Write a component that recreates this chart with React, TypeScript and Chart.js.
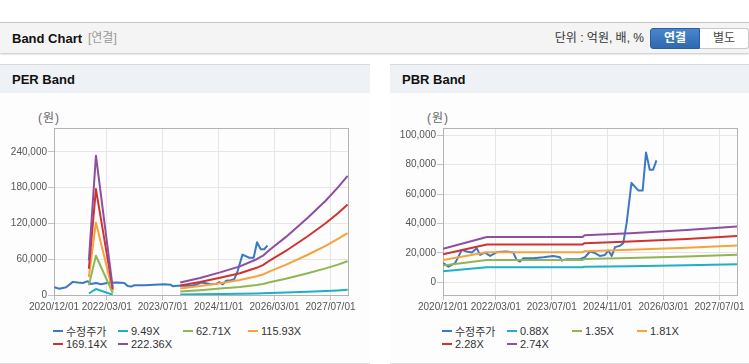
import React, { useEffect, useRef } from "react";
import { Chart, registerables } from "chart.js";
Chart.register(...registerables);

// ---- x axis (months since 2020/12/01) ----
const xMin = 0.85;
const xMax = 79.7;
const xTickMonths = [0.85, 15, 30, 45, 60, 75];
const xTickLabels = ["2020/12/01", "2022/03/01", "2023/07/01", "2024/11/01", "2026/03/01", "2027/07/01"];

// ---- adjusted share price (수정주가) ----
const priceMonths = [0.9, 2.3, 4.1, 5.9, 7.2, 8.6, 9.9, 10.8, 12.1, 13.5, 15.3, 17.9, 19.7, 20.6, 21.5, 22.4, 25.1, 27.8, 30.4, 32.2, 32.7, 34.0, 37.6, 38.9, 40.3, 41.6, 42.9, 44.3, 45.2, 46.1, 47.0, 48.3, 49.2, 50.1, 51.4, 53.2, 54.4, 55.3, 56.3, 57.2, 58.1];
const priceValues = [13000, 10600, 13000, 22000, 20900, 20200, 23200, 18600, 20200, 17900, 20500, 20900, 20200, 15200, 14100, 16400, 16400, 17000, 17900, 17000, 14700, 15700, 15700, 17000, 20900, 19800, 17900, 18600, 21600, 17900, 23900, 24800, 26600, 40200, 67700, 62500, 62500, 88400, 76600, 76600, 83000];

// ---- PER bands ----
const perBandMonths = [10.2, 12.1, 16.6, 25, 34.7, 40.0, 45.4, 50.7, 55.2, 56.9, 58.7, 63.0, 68.9, 73.7, 77.0, 79.6];
const perBand949 = [2500, 10000, 500, null, 900, 1200, 1600, 2000, 2600, 2800, 3200, 4100, 5500, 6700, 7700, 8700];
const perBand6271 = [16300, 65800, 3400, null, 5900, 8000, 10700, 13500, 16900, 18600, 21400, 27400, 36500, 44600, 50900, 56500];
const perBand11593 = [30100, 121700, 6400, null, 10900, 14900, 19800, 25000, 31300, 34400, 39600, 50600, 67500, 82400, 94100, 103900];
const perBand16914 = [44000, 177600, 9300, null, 16000, 21700, 28800, 36500, 45600, 50200, 57800, 73800, 98500, 120200, 137200, 151800];
const perBand22236 = [57800, 233500, 12200, null, 21000, 28500, 37900, 48000, 60000, 66000, 76000, 97000, 129500, 158000, 180400, 199500];
const perLabels = ["수정주가", "9.49X", "62.71X", "115.93X", "169.14X", "222.36X"];
const perYMin = 0;
const perYMax = 280000;
const perYTicks = [0, 60000, 120000, 180000, 240000];

// ---- PBR bands ----
const pbrBandMonths = [0.85, 12.6, 38.3, 38.8, 51.0, 66.2, 79.7];
const pbrBand088 = [7500, 10200, 10200, 10500, 10900, 11500, 12300];
const pbrBand135 = [11300, 15200, 15200, 15800, 16500, 17500, 18700];
const pbrBand181 = [15100, 20400, 20400, 21100, 22100, 23400, 25000];
const pbrBand228 = [19000, 25700, 25700, 26600, 27800, 29500, 31500];
const pbrBand274 = [22800, 30800, 30800, 32000, 33400, 35600, 37900];
const pbrLabels = ["수정주가", "0.88X", "1.35X", "1.81X", "2.28X", "2.74X"];
const pbrYMin = -8700;
const pbrYMax = 105000;
const pbrYTicks = [0, 20000, 40000, 60000, 80000, 100000];

const seriesColors = ["#3b78c6", "#1fb0c5", "#8fb653", "#f5a33a", "#d2322e", "#8e4f9f"];

const AXIS_FONT = '"Liberation Sans Narrow", "Liberation Sans", Arial, sans-serif';
const UI_FONT = '"Liberation Sans", "Noto Sans CJK KR", Arial, sans-serif';

const boxPlugin = {
  id: "plotBox",
  beforeDatasetsDraw(chart: any) {
    const { ctx, chartArea } = chart;
    const l = Math.round(chartArea.left) + 0.5;
    const t = Math.round(chartArea.top) + 0.5;
    const r = Math.round(chartArea.right) + 0.5;
    const b = Math.round(chartArea.bottom) + 0.5;
    ctx.save();
    ctx.strokeStyle = "#b3b3b3";
    ctx.lineWidth = 1;
    ctx.strokeRect(l, t, r - l, b - t);
    ctx.restore();
  },
};

function buildConfig(
  labels: string[],
  bandMonths: number[],
  bands: (number | null)[][],
  yMin: number,
  yMax: number,
  yTicks: number[],
  yAxisW: number,
  padRight: number
) {
  const datasets: any[] = [];
  datasets.push({
    label: labels[0],
    data: priceMonths.map((m, i) => ({ x: m, y: priceValues[i] })),
    borderColor: seriesColors[0],
    backgroundColor: seriesColors[0],
    borderWidth: 2,
    pointRadius: 0,
    tension: 0,
    borderJoinStyle: "round",
    order: 10,
  });
  bands.forEach((vals, k) => {
    datasets.push({
      label: labels[k + 1],
      data: bandMonths.map((m, i) => ({ x: m, y: vals[i] })),
      borderColor: seriesColors[k + 1],
      backgroundColor: seriesColors[k + 1],
      borderWidth: 2,
      pointRadius: 0,
      tension: 0,
      borderJoinStyle: "round",
      spanGaps: false,
      order: 5 - k,
    });
  });
  return {
    type: "line",
    data: { datasets },
    plugins: [boxPlugin],
    options: {
      animation: false,
      responsive: false,
      maintainAspectRatio: false,
      devicePixelRatio: 1,
      layout: { padding: { top: 28, right: padRight, bottom: 0, left: 0 } },
      plugins: { legend: { display: false }, tooltip: { enabled: false } },
      events: [],
      scales: {
        x: {
          type: "linear",
          min: xMin,
          max: xMax,
          afterBuildTicks: (s: any) => {
            s.ticks = xTickMonths.map((v) => ({ value: v }));
          },
          afterFit: (s: any) => {
            s.height = 25;
          },
          ticks: {
            autoSkip: false,
            maxRotation: 0,
            minRotation: 0,
            padding: 1,
            color: "#555",
            font: { family: AXIS_FONT, size: 10 },
            callback: (_v: any, i: number) => xTickLabels[i],
          },
          grid: { color: "#e6e6e6", tickLength: 5, tickColor: "#c4c4c4" },
          border: { display: false },
        },
        y: {
          type: "linear",
          min: yMin,
          max: yMax,
          afterBuildTicks: (s: any) => {
            s.ticks = yTicks.map((v) => ({ value: v }));
          },
          afterFit: (s: any) => {
            s.width = yAxisW;
          },
          ticks: {
            autoSkip: false,
            padding: 1,
            color: "#555",
            font: { family: AXIS_FONT, size: 10 },
            callback: (_v: any, i: number) => yTicks[i].toLocaleString("en-US"),
          },
          grid: { color: "#e6e6e6", tickLength: 6, tickColor: "#c4c4c4" },
          border: { display: false },
        },
      },
    },
  };
}

function BandPanel(props: {
  left: number;
  title: string;
  labels: string[];
  bandMonths: number[];
  bands: (number | null)[][];
  yMin: number;
  yMax: number;
  yTicks: number[];
  yAxisW: number;
  width: number;
  padRight: number;
}) {
  const ref = useRef<HTMLCanvasElement | null>(null);
  useEffect(() => {
    if (!ref.current) return;
    const chart = new Chart(
      ref.current,
      buildConfig(props.labels, props.bandMonths, props.bands, props.yMin, props.yMax, props.yTicks, props.yAxisW, props.padRight) as any
    );
    return () => chart.destroy();
  }, []);
  const plotLeft = props.yAxisW;
  return (
    <div
      style={{
        position: "absolute",
        left: props.left,
        top: 64,
        width: props.width,
        height: 298,
        borderTop: "1px solid #d9d9d9",
        borderBottom: "1px solid #dddddd",
        background: "#fdfdfe",
      }}
    >
      <div
        style={{
          position: "absolute",
          left: 0,
          top: 0,
          width: "100%",
          height: 28,
          background: "#eef2f7",
        }}
      >
        <span
          style={{
            position: "absolute",
            left: 12,
            top: 7,
            fontFamily: UI_FONT,
            fontWeight: "bold",
            fontSize: 13,
            lineHeight: "15px",
            color: "#111",
          }}
        >
          {props.title}
        </span>
      </div>
      <span
        style={{
          position: "absolute",
          left: plotLeft - 16,
          top: 46,
          fontFamily: UI_FONT,
          fontSize: 12,
          lineHeight: "14px",
          color: "#666",
          letterSpacing: 1,
        }}
      >
        (원)
      </span>
      <canvas
        ref={ref}
        width={props.width}
        height={220}
        style={{ position: "absolute", left: 0, top: 35, width: props.width, height: 220 }}
      />
      <div
        style={{
          position: "absolute",
          left: plotLeft - 1,
          top: 259,
          width: 262,
          display: "flex",
          flexWrap: "wrap",
        }}
      >
        {props.labels.map((lab, i) => (
          <div
            key={lab}
            style={{
              width: 65,
              height: 13.5,
              display: "flex",
              alignItems: "center",
              fontFamily: UI_FONT,
              fontSize: 11,
              color: "#333",
              whiteSpace: "nowrap",
            }}
          >
            <span
              style={{
                display: "inline-block",
                width: 10,
                height: 2,
                background: seriesColors[i],
                marginRight: 3,
              }}
            />
            {lab}
          </div>
        ))}
      </div>
    </div>
  );
}

export default function App() {
  return (
    <div
      style={{
        position: "relative",
        width: 749,
        height: 364,
        overflow: "hidden",
        background: "#ffffff",
        fontFamily: UI_FONT,
      }}
    >
      <style>{"body{margin:0;}"}</style>
      <div
        style={{
          position: "absolute",
          left: 0,
          top: 22,
          width: 749,
          height: 30,
          background: "#f4f4f4",
          borderTop: "1px solid #c6c6c6",
          boxShadow: "0 1px 2px rgba(0,0,0,0.25)",
        }}
      >
        <span
          style={{
            position: "absolute",
            left: 12,
            top: 8,
            fontSize: 13,
            fontWeight: "bold",
            lineHeight: "15px",
            color: "#111",
          }}
        >
          Band Chart
        </span>
        <span
          style={{
            position: "absolute",
            left: 88,
            top: 8,
            fontSize: 12,
            lineHeight: "15px",
            color: "#999",
          }}
        >
          [연결]
        </span>
        <span
          style={{
            position: "absolute",
            right: 749 - 644,
            top: 8,
            fontSize: 12,
            lineHeight: "15px",
            color: "#333",
          }}
        >
          단위 : 억원, 배, %
        </span>
        <div
          style={{
            position: "absolute",
            left: 650,
            top: 5,
            width: 50,
            height: 21,
            boxSizing: "border-box",
            background: "linear-gradient(#4a86cc, #2d68b0)",
            border: "1px solid #2a5f9f",
            borderRadius: "3px 0 0 3px",
            color: "#fff",
            fontWeight: "bold",
            fontSize: 12,
            lineHeight: "19px",
            textAlign: "center",
          }}
        >
          연결
        </div>
        <div
          style={{
            position: "absolute",
            left: 700,
            top: 5,
            width: 49,
            height: 21,
            boxSizing: "border-box",
            background: "#fff",
            border: "1px solid #c8c8c8",
            borderLeft: "none",
            borderRadius: "0 3px 3px 0",
            color: "#444",
            fontSize: 12,
            lineHeight: "19px",
            textAlign: "center",
          }}
        >
          별도
        </div>
      </div>
      <BandPanel
        left={0}
        title="PER Band"
        labels={perLabels}
        bandMonths={perBandMonths}
        bands={[perBand949, perBand6271, perBand11593, perBand16914, perBand22236]}
        yMin={perYMin}
        yMax={perYMax}
        yTicks={perYTicks}
        yAxisW={54}
        width={370}
        padRight={22}
      />
      <BandPanel
        left={390}
        title="PBR Band"
        labels={pbrLabels}
        bandMonths={pbrBandMonths}
        bands={[pbrBand088, pbrBand135, pbrBand181, pbrBand228, pbrBand274]}
        yMin={pbrYMin}
        yMax={pbrYMax}
        yTicks={pbrYTicks}
        yAxisW={53}
        width={370}
        padRight={23}
      />
    </div>
  );
}
